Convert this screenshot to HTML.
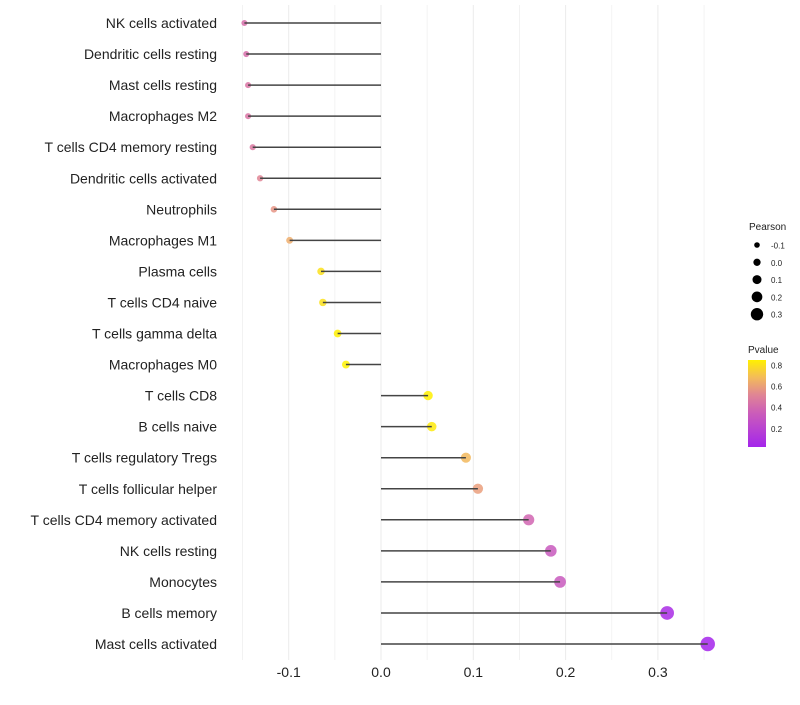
<!DOCTYPE html>
<html><head><meta charset="utf-8"><style>
body{margin:0;background:#fff;font-family:"Liberation Sans",sans-serif}
svg text{font-family:"Liberation Sans",sans-serif}
</style></head><body>
<svg id="c" width="800" height="700"></svg>
<script>
const categories=["NK cells activated","Dendritic cells resting","Mast cells resting","Macrophages M2","T cells CD4 memory resting","Dendritic cells activated","Neutrophils","Macrophages M1","Plasma cells","T cells CD4 naive","T cells gamma delta","Macrophages M0","T cells CD8","B cells naive","T cells regulatory  Tregs ","T cells follicular helper","T cells CD4 memory activated","NK cells resting","Monocytes","B cells memory","Mast cells activated"];
const pearson=[-0.148,-0.146,-0.144,-0.144,-0.139,-0.131,-0.116,-0.099,-0.065,-0.063,-0.047,-0.038,0.051,0.055,0.092,0.105,0.160,0.184,0.194,0.310,0.354];
const pvalue=[0.45,0.45,0.47,0.47,0.48,0.52,0.57,0.65,0.8,0.8,0.85,0.88,0.85,0.83,0.68,0.6,0.4,0.33,0.33,0.07,0.03];
const xTicks=[-0.1,0,0.1,0.2,0.3];
const xTickLabels=["-0.1","0.0","0.1","0.2","0.3"];
const sizeLegend=[-0.1,0,0.1,0.2,0.3];
const sizeLegendLabels=["-0.1","0.0","0.1","0.2","0.3"];
const pLegend=[0.8,0.6,0.4,0.2];

const NS="http://www.w3.org/2000/svg";
const svg=document.getElementById('c');
function el(t,a,p){const e=document.createElementNS(NS,t);for(const k in a)e.setAttribute(k,a[k]);(p||svg).appendChild(e);return e;}
const x=v=>381+v*923;
const y=i=>23+i*31.05;
const r=v=>3+(v+0.15)/0.5*4.2;
function lerp(a,b,t){return a.map((c,i)=>Math.round(c+(b[i]-c)*t));}
function col(p){const stops=[[0,[160,32,240]],[0.45,[215,110,170]],[0.65,[240,175,110]],[0.85,[255,240,0]],[1,[255,255,0]]];
 for(let i=1;i<stops.length;i++){if(p<=stops[i][0]){const t=(p-stops[i-1][0])/(stops[i][0]-stops[i-1][0]);return 'rgb('+lerp(stops[i-1][1],stops[i][1],t).join(',')+')';}}return 'rgb(255,255,0)';}

const gridMinor=[-0.15,-0.05,0.05,0.15,0.25,0.35];
gridMinor.forEach(v=>{const g=el('line',{x1:x(v),x2:x(v),y1:5,y2:660,stroke:'#f0f0f0','stroke-width':0.8});});
xTicks.forEach((v,i)=>{const g=el('line',{x1:x(v),x2:x(v),y1:5,y2:660,stroke:'#ebebeb','stroke-width':1});
 const t=el('text',{x:x(v),y:677,'text-anchor':'middle','font-size':14,fill:'#222'});t.textContent=xTickLabels[i];});

categories.forEach((c,i)=>{
 const t=el('text',{x:217,y:y(i)+5,'text-anchor':'end','font-size':14,fill:'#222'});t.textContent=c;
 
 
 const pt=el('circle',{cx:x(pearson[i]),cy:y(i),r:r(pearson[i]),fill:col(pvalue[i]),'fill-opacity':0.85});
 
 
 const ln=el('line',{x1:x(0),x2:x(pearson[i]),y1:y(i),y2:y(i),stroke:'#444','stroke-width':1.5});
 
 
});

let t=el('text',{x:749,y:230,'font-size':10,fill:'#222'});t.textContent='Pearson';
sizeLegend.forEach((v,i)=>{const cy=245+i*17.3;
 const c=el('circle',{cx:757,cy:cy,r:2.8+i*0.85,fill:'#000'});
 const l=el('text',{x:771,y:cy+3.5,'font-size':8,fill:'#222'});l.textContent=sizeLegendLabels[i];});
t=el('text',{x:748,y:353,'font-size':10,fill:'#222'});t.textContent='Pvalue';
const defs=el('defs',{});const lg=el('linearGradient',{id:'g',x1:0,y1:1,x2:0,y2:0},defs);
[0,0.2,0.4,0.6,0.8,1].forEach(s=>{el('stop',{offset:s,'stop-color':col(0.03+s*0.82)},lg);});
const bar=el('rect',{x:748,y:360,width:18,height:87,fill:'url(#g)'});
pLegend.forEach(v=>{const cy=447-(v-0.03)/0.82*87;
 const l=el('text',{x:771,y:cy+3,'font-size':8,fill:'#222'});l.textContent=v.toFixed(1);});
</script>
</body></html>
